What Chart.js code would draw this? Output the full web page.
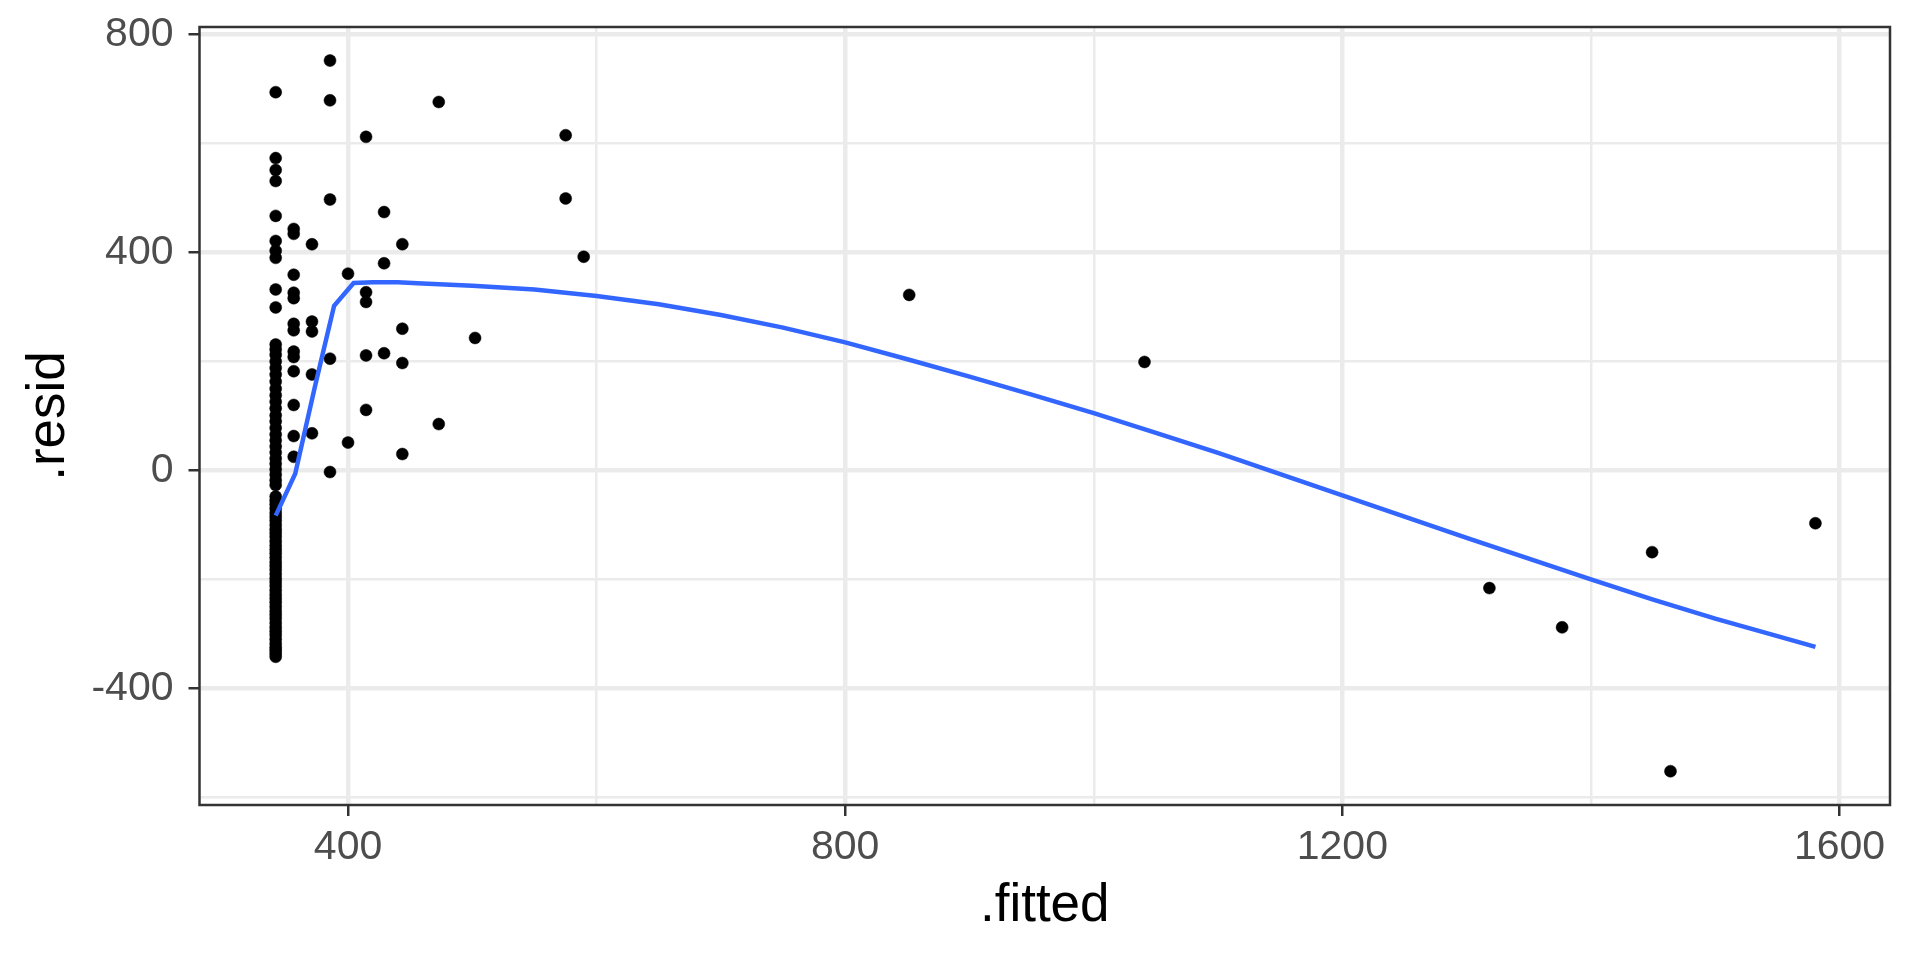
<!DOCTYPE html>
<html>
<head>
<meta charset="utf-8">
<title>.resid vs .fitted</title>
<script src="https://cdn.jsdelivr.net/npm/chart.js@4.4.1/dist/chart.umd.min.js"></script>
<style>
    html, body { margin: 0; padding: 0; background: #ffffff; }
    #chart { display: block; }
</style>
</head>
<body>
<canvas id="chart" width="1920" height="960"></canvas>
<script>
// Data
const stackFitted = 341.8;
const stackResid = [
    694, 573, 551, 531, 467, 421, 403, 390, 332, 299,
    231, 222, 212, 200, 188, 176, 163, 150, 138, 126, 114, 101, 90, 78, 66, 55, 44, 33, 22, 12, 2, -8, -18, -27,
    -48, -55, -62, -70, -78, -85, -92, -100, -108, -115, -122, -130, -138, -145, -152, -160, -168, -175,
    -182, -190, -198, -205, -212, -220, -228, -235, -242, -250, -258, -265, -272, -280, -288, -295, -302,
    -310, -318, -325, -330, -336, -342
];

const otherFitted = [
    356.3, 356.3, 356.3, 356.3, 356.3, 356.3, 356.3, 356.3, 356.3, 356.3, 356.3, 356.3, 356.3,
    371.0, 371.0, 371.0, 371.0, 371.0,
    385.5, 385.5, 385.5, 385.5, 385.5,
    400, 400,
    414.5, 414.5, 414.5, 414.5, 414.5,
    429, 429, 429,
    443.7, 443.7, 443.7, 443.7,
    473, 473,
    502.2,
    575.1, 575.1,
    589.6,
    851.5, 1040.8, 1318.3, 1376.8, 1449.2, 1464, 1580.6
];
const otherResid = [
    443, 434, 359, 326, 316, 269, 257, 218, 208, 182, 120, 63, 25,
    415, 273, 255, 176, 68,
    752, 679, 497, 205, -3,
    361, 51,
    612, 327, 309, 211, 111,
    474, 380, 215,
    415, 260, 197, 30,
    676, 85,
    243,
    615, 499,
    392,
    322, 199, -216, -288, -150, -552, -97
];

// loess line
const smoothFitted = [
    341.8, 357.5, 373.2, 388.8, 404.5, 420, 440, 460, 500, 550, 600, 650, 700, 750, 800, 850, 900, 950,
    1000, 1050, 1100, 1150, 1200, 1250, 1300, 1350, 1400, 1450, 1500, 1550, 1580.6
];
const smoothResid = [
    -83, -6, 152, 302, 344, 345, 345, 343, 339, 332, 320, 305, 285, 262, 235, 204, 172, 139,
    105, 69, 32, -7, -46, -85, -124, -162, -200, -237, -272, -304, -324
];

const xMajor = [400, 800, 1200, 1600];
const xMinor = [600, 1000, 1400];
const yMajor = [-400, 0, 400, 800];
const yMinor = [-600, -200, 200, 600];

const xRange = [280.5, 1640.6];
const yRange = [-614, 813.6];

function toPoints(xs, ys) {
    return ys.map((y, i) => ({ x: Array.isArray(xs) ? xs[i] : xs, y: y }));
}

function setTicks(major, minor) {
    return function (scale) {
        scale.ticks = major.concat(minor).sort((a, b) => a - b).map(v => ({ value: v }));
    };
}

function isMajor(list, value) {
    return list.indexOf(value) !== -1;
}

const panelBorder = {
    id: 'panelBorder',
    afterDraw(chart) {
        const a = chart.chartArea;
        const ctx = chart.ctx;
        ctx.save();
        ctx.strokeStyle = '#333333';
        ctx.lineWidth = 2.5;
        ctx.strokeRect(a.left, a.top, a.right - a.left, a.bottom - a.top);
        ctx.restore();
    }
};

function renderChart() {
    const ctx = document.getElementById('chart').getContext('2d');
    const allPoints = toPoints(stackFitted, stackResid).concat(toPoints(otherFitted, otherResid));

    new Chart(ctx, {
        type: 'scatter',
        data: {
            datasets: [{
                label: 'smooth',
                data: toPoints(smoothFitted, smoothResid),
                showLine: true,
                borderColor: '#3366FF',
                borderWidth: 4.5,
                pointRadius: 0,
                tension: 0,
                fill: false,
                order: 0
            }, {
                label: 'points',
                data: allPoints,
                backgroundColor: '#000000',
                borderColor: '#000000',
                borderWidth: 0.5,
                pointRadius: 6,
                order: 1
            }]
        },
        options: {
            responsive: false,
            animation: false,
            devicePixelRatio: 1,
            layout: { padding: { top: 27, right: 30, left: 0, bottom: 0 } },
            plugins: {
                legend: { display: false },
                tooltip: { enabled: false }
            },
            scales: {
                x: {
                    type: 'linear',
                    min: xRange[0],
                    max: xRange[1],
                    afterBuildTicks: setTicks(xMajor, xMinor),
                    afterFit: function (scale) {
                        scale.height = 155;
                        scale.paddingLeft = 0;
                        scale.paddingRight = 0;
                    },
                    border: { display: false },
                    grid: {
                        color: '#EBEBEB',
                        lineWidth: c => isMajor(xMajor, c.tick.value) ? 4.5 : 2.5,
                        tickLength: 11,
                        tickWidth: 2.5,
                        tickColor: c => isMajor(xMajor, c.tick.value) ? '#333333' : 'rgba(0,0,0,0)'
                    },
                    ticks: {
                        autoSkip: false,
                        maxRotation: 0,
                        padding: 7,
                        color: '#4D4D4D',
                        font: { family: '"Liberation Sans", Arial, sans-serif', size: 41 },
                        callback: v => isMajor(xMajor, v) ? String(v) : ''
                    },
                    title: {
                        display: true,
                        text: '.fitted',
                        color: '#000000',
                        padding: { top: 0, bottom: 22 },
                        font: { family: '"Liberation Sans", Arial, sans-serif', size: 53 }
                    }
                },
                y: {
                    type: 'linear',
                    min: yRange[0],
                    max: yRange[1],
                    afterBuildTicks: setTicks(yMajor, yMinor),
                    afterFit: function (scale) {
                        scale.width = 199.5;
                        scale.paddingTop = 0;
                        scale.paddingBottom = 0;
                    },
                    border: { display: false },
                    grid: {
                        color: '#EBEBEB',
                        lineWidth: c => isMajor(yMajor, c.tick.value) ? 4.5 : 2.5,
                        tickLength: 11,
                        tickWidth: 2.5,
                        tickColor: c => isMajor(yMajor, c.tick.value) ? '#333333' : 'rgba(0,0,0,0)'
                    },
                    ticks: {
                        autoSkip: false,
                        padding: 15,
                        color: '#4D4D4D',
                        font: { family: '"Liberation Sans", Arial, sans-serif', size: 41 },
                        callback: v => isMajor(yMajor, v) ? String(v) : ''
                    },
                    title: {
                        display: true,
                        text: '.resid',
                        color: '#000000',
                        padding: { top: 18, bottom: 0 },
                        font: { family: '"Liberation Sans", Arial, sans-serif', size: 53 }
                    }
                }
            }
        },
        plugins: [panelBorder]
    });
}

// Initial setup
document.addEventListener('DOMContentLoaded', () => {
    renderChart();
});
</script>
</body>
</html>
